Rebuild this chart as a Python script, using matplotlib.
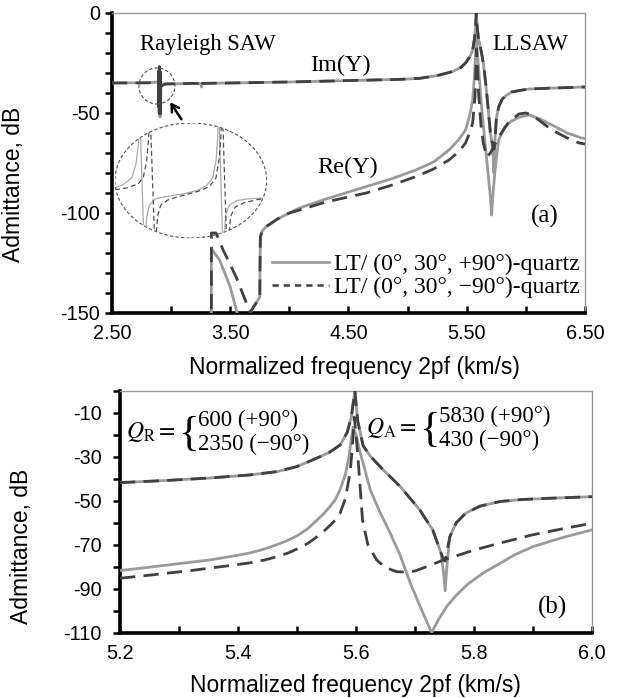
import matplotlib
matplotlib.use("Agg")
import matplotlib.pyplot as plt
from matplotlib.lines import Line2D
from matplotlib.patches import Ellipse
from matplotlib.ticker import FixedLocator, FormatStrFormatter, MultipleLocator

plt.rcParams['font.family'] = 'Liberation Sans'
plt.rcParams['mathtext.fontset'] = 'stix'
plt.rcParams['axes.unicode_minus'] = False

SERIF = 'Liberation Serif'
GRAY = '#9a9a9a'
DARK = '#404040'

# ---- panel (a): wide band, 2.5 .. 6.5 km/s ----
im_f_a = [2.50, 2.80, 2.88, 2.895, 2.900, 2.902, 2.904, 2.906, 2.909, 2.915, 2.95, 3.20, 3.25,
          3.257, 3.265, 3.50, 4.00, 4.50, 4.93, 5.10, 5.25, 5.38, 5.45, 5.49, 5.53, 5.55,
          5.565, 5.575, 5.58, 5.59, 5.60, 5.62, 5.64, 5.66, 5.68, 5.70, 5.72, 5.73, 5.735,
          5.74, 5.75, 5.77, 5.80, 5.84, 5.88, 5.94, 6.03, 6.20, 6.50]
im_plus_a = [-35.0, -34.9, -34.6, -33.5, -30.0, -26.8, -45.0, -52.0, -40.0, -36.5, -35.5, -35.2, -35.3,
             -37.0, -35.2, -35.0, -34.5, -33.8, -33.2, -32.7, -31.3, -29.3, -27.2, -25.0, -21.5, -18.5,
             -13.0, -7.0, 0.0, -8.0, -13.0, -18.5, -25.0, -35.0, -47.0, -60.0, -68.0, -80.0, -72.0,
             -62.0, -53.0, -47.0, -43.0, -41.0, -39.5, -38.8, -38.0, -37.6, -37.0]
im_minus_a = [-35.0, -34.9, -34.6, -33.5, -30.0, -26.8, -45.0, -52.0, -40.0, -36.5, -35.5, -35.2, -35.3,
              -37.0, -35.2, -35.0, -34.5, -33.8, -33.2, -32.7, -31.3, -29.3, -27.2, -25.0, -21.5, -18.5,
              -13.0, -7.0, 0.0, -8.0, -13.0, -18.5, -25.0, -35.0, -47.0, -60.0, -66.0, -68.0, -66.0,
              -62.0, -53.0, -47.0, -43.0, -41.0, -39.5, -38.8, -38.0, -37.6, -37.0]

# blob of the Rayleigh resonance on Im(Y)
ray_f = [2.899, 2.900, 2.901, 2.902, 2.903, 2.904, 2.905, 2.906]
ray_y = [-33.0, -29.0, -40.0, -30.0, -47.0, -36.0, -50.0, -40.0]

re_f_plus_a = [3.340, 3.341, 3.41, 3.50, 3.55, 3.56, 3.62, 3.66, 3.75, 3.752, 3.755, 3.77, 3.80, 3.90,
               4.00, 4.086, 4.31, 4.65, 4.86, 5.07, 5.22, 5.35, 5.43, 5.49, 5.53, 5.55, 5.565,
               5.575, 5.58, 5.59, 5.61, 5.63, 5.66, 5.68, 5.70, 5.71, 5.72, 5.74, 5.77, 5.82, 5.88,
               5.95, 6.03, 6.12, 6.22, 6.35, 6.47, 6.50]
re_plus_a = [-160.0, -118.0, -123.5, -137.0, -148.0, -151.0, -158.0, -151.0, -142.0, -125.0, -112.0,
             -109.0, -107.0, -103.0, -100.0, -97.5, -93.0, -86.8, -83.0, -78.5, -74.5, -68.5, -63.5,
             -58.5, -50.0, -43.5, -32.0, -20.0, -12.0, -20.0, -35.0, -50.0, -68.0, -80.0, -92.0,
             -101.0, -92.0, -78.0, -63.5, -57.0, -54.0, -52.0, -51.0, -53.0, -56.0, -60.0, -62.5,
             -62.8]

re_f_minus_a = [3.340, 3.341, 3.38, 3.44, 3.55, 3.65, 3.665, 3.75, 3.752, 3.755, 3.77, 3.80, 3.90,
                4.00, 4.086, 4.31, 4.65, 4.86, 5.07, 5.22, 5.35, 5.43, 5.49, 5.53, 5.55, 5.57,
                5.583, 5.60, 5.62, 5.64, 5.67, 5.70, 5.77, 5.85, 5.94, 6.00, 6.05, 6.12, 6.22, 6.35,
                6.45, 6.50]
re_minus_a = [-160.0, -110.0, -110.0, -118.5, -132.0, -147.0, -150.0, -142.0, -125.0, -112.0, -109.0,
              -107.0, -103.0, -100.0, -98.5, -94.5, -90.0, -86.2, -81.8, -78.0, -73.5, -69.5, -65.0,
              -59.0, -55.0, -42.0, -18.0, -40.0, -56.0, -65.0, -72.0, -70.0, -62.0, -55.0, -50.5,
              -50.0, -51.0, -54.0, -58.5, -62.5, -65.0, -65.5]

# zoomed sketch of the Rayleigh resonance (inset coordinates 0..1)
ins_solid = [
    [(0.0, 0.435), (0.055, 0.464), (0.110, 0.522), (0.138, 0.638), (0.154, 0.812), (0.160, 0.913), (0.163, 1.04)],
    [(0.165, 1.04), (0.191, -0.02)],
    [(0.200, -0.02), (0.209, 0.174), (0.226, 0.284), (0.264, 0.339), (0.341, 0.362), (0.451, 0.383),
     (0.538, 0.412), (0.604, 0.455), (0.644, 0.522), (0.666, 0.667), (0.677, 0.870), (0.681, 1.04)],
    [(0.686, 1.04), (0.710, -0.02)],
    [(0.719, -0.02), (0.730, 0.203), (0.754, 0.284), (0.802, 0.325), (0.890, 0.342), (1.0, 0.348)],
]
ins_dashed = [
    [(0.0, 0.420), (0.077, 0.435), (0.154, 0.470), (0.187, 0.528), (0.209, 0.667), (0.222, 0.870), (0.226, 1.04)],
    [(0.233, 1.04), (0.262, -0.02)],
    [(0.270, -0.02), (0.281, 0.188), (0.301, 0.284), (0.352, 0.333), (0.451, 0.371), (0.549, 0.406),
     (0.622, 0.446), (0.666, 0.522), (0.688, 0.696), (0.699, 0.899), (0.703, 1.04)],
    [(0.710, 1.04), (0.736, -0.02)],
    [(0.747, -0.02), (0.763, 0.188), (0.791, 0.267), (0.846, 0.304), (0.934, 0.333), (1.0, 0.342)],
]

# ---- panel (b): around the LLSAW, 5.2 .. 6.0 km/s ----
im_f_b = [5.20, 5.28, 5.352, 5.42, 5.466, 5.50, 5.534, 5.555, 5.573, 5.585, 5.592, 5.598, 5.603, 5.612,
          5.625, 5.646, 5.675, 5.708, 5.730, 5.744, 5.748, 5.751, 5.754, 5.759, 5.770, 5.786, 5.810,
          5.844, 5.88, 5.929, 6.00]
im_plus_b = [-41.8, -40.8, -39.7, -38.3, -36.8, -34.5, -30.6, -28.0, -24.7, -19.0, -12.0, 0.0, -14.0, -25.0,
             -30.0, -36.0, -43.6, -54.2, -63.3, -73.8, -82.0, -91.0, -80.0, -66.4, -60.0, -55.7, -52.5,
             -50.4, -49.5, -48.9, -48.2]
im_minus_b = [-41.8, -40.8, -39.7, -38.3, -36.8, -34.5, -30.6, -28.0, -24.7, -19.0, -12.0, 0.0, -14.0, -25.0,
              -30.0, -36.0, -43.6, -54.2, -63.3, -73.8, -76.5, -77.5, -73.0, -66.4, -60.0, -55.7, -52.5,
              -50.4, -49.5, -48.9, -48.2]

re_f_plus_b = [5.20, 5.24, 5.28, 5.32, 5.352, 5.39, 5.42, 5.445, 5.466, 5.485, 5.50, 5.518, 5.534,
               5.545, 5.555, 5.565, 5.573, 5.582, 5.588, 5.592, 5.595, 5.600, 5.606, 5.612, 5.624,
               5.640, 5.658, 5.675, 5.692, 5.710, 5.728, 5.740, 5.754, 5.770, 5.788, 5.815, 5.844,
               5.870, 5.900, 5.950, 6.00]
re_plus_b = [-81.8, -80.6, -79.3, -78.0, -77.0, -75.3, -73.8, -72.0, -70.0, -68.0, -66.0, -62.8, -58.8,
             -56.0, -53.0, -49.5, -45.0, -38.0, -30.0, -22.0, -16.5, -20.0, -27.0, -33.0, -45.0,
             -55.0, -64.8, -75.0, -87.5, -99.0, -110.0, -104.0, -98.0, -93.0, -88.3, -83.0, -78.5,
             -74.5, -70.9, -66.8, -63.3]

re_f_minus_b = [5.20, 5.24, 5.28, 5.32, 5.352, 5.39, 5.42, 5.445, 5.466, 5.485, 5.50, 5.518, 5.534,
                5.545, 5.555, 5.565, 5.573, 5.582, 5.590, 5.594, 5.597, 5.600, 5.604, 5.611, 5.620,
                5.635, 5.650, 5.669, 5.685, 5.700, 5.720, 5.748, 5.80, 5.844, 5.90, 5.95, 6.00]
re_minus_b = [-85.3, -84.2, -83.0, -81.8, -80.7, -79.4, -78.3, -77.0, -75.5, -73.8, -72.0, -69.5, -66.4,
              -64.0, -61.5, -58.8, -55.7, -49.0, -37.0, -25.0, -12.0, -20.0, -33.0, -58.8, -70.0,
              -77.0, -80.5, -82.3, -82.5, -82.0, -80.0, -77.0, -72.5, -69.3, -65.5, -62.8, -60.3]

legend_labels = ['LT/ (0°, 30°, +90°)-quartz', 'LT/ (0°, 30°, \u221290°)-quartz']


def style_axes(ax, ypad):
    for side in ['top', 'right']:
        ax.spines[side].set_color('#999999')
        ax.spines[side].set_linewidth(1.0)
    for side in ['left', 'bottom']:
        ax.spines[side].set_color('black')
        ax.spines[side].set_linewidth(2.6)
    ax.tick_params(axis='y', which='both', direction='out', length=5, width=1.8,
                   labelsize=14.3, pad=ypad)
    ax.tick_params(axis='x', which='both', direction='in', length=5, width=1.8,
                   labelsize=14.3, pad=8)
    ax.tick_params(top=False, right=False, which='both')


def draw_pair(ax, f_plus, y_plus, f_minus, y_minus, dashes=(5.5, 3)):
    ax.plot(f_plus, y_plus, color=GRAY, lw=2.0, zorder=3)
    ax.plot(f_minus, y_minus, color=DARK, lw=2.0, dashes=dashes, zorder=4)


fig = plt.figure(figsize=(6.18, 6.98), dpi=100)

# ---------------- panel (a) ----------------
ax1 = fig.add_axes([0.1812, 0.5516, 0.7654, 0.4298])
draw_pair(ax1, im_f_a, im_plus_a, im_f_a, im_minus_a)
ax1.plot(ray_f, ray_y, color=DARK, lw=3.0, zorder=5)
draw_pair(ax1, re_f_plus_a, re_plus_a, re_f_minus_a, re_minus_a)
ax1.set_xlim(2.5, 6.5)
ax1.set_ylim(-150, 0)
ax1.xaxis.set_major_locator(FixedLocator([2.5, 3.5, 4.5, 5.5, 6.5]))
ax1.xaxis.set_minor_locator(FixedLocator([3.0, 4.0, 5.0, 6.0]))
ax1.xaxis.set_major_formatter(FormatStrFormatter('%.2f'))
ax1.yaxis.set_major_locator(MultipleLocator(50))
ax1.yaxis.set_minor_locator(MultipleLocator(10))
style_axes(ax1, 3.5)
ax1.set_ylabel('Admittance, dB', fontsize=16.5)
ax1.yaxis.set_label_coords(-0.184, 0.43)
ax1.set_xlabel('Normalized frequency 2pf (km/s)', fontsize=16.5)
ax1.xaxis.set_label_coords(0.513, -0.145)

ax1.text(3.31, -16, 'Rayleigh SAW', family=SERIF, fontsize=16.3, ha='center', va='center')
ax1.text(6.04, -16, 'LLSAW', family=SERIF, fontsize=16.3, ha='center', va='center')
ax1.text(4.43, -26, 'Im(Y)', family=SERIF, fontsize=17.5, ha='center', va='center')
ax1.text(4.49, -77, 'Re(Y)', family=SERIF, fontsize=17.5, ha='center', va='center')
ax1.text(6.157, -101.5, '(a)', family=SERIF, fontsize=18, ha='center', va='center')

# circle around the Rayleigh resonance and arrow to the zoomed sketch
ax1.add_patch(Ellipse((2.88, -36.5), 0.304, 18, fill=False, ls=(0, (3, 2)), lw=0.8,
                      color='#505050', zorder=6))
ax1.annotate('', xy=(2.98, -43.5), xytext=(3.10, -54.3),
             arrowprops=dict(arrowstyle='->,head_length=0.5,head_width=0.3', color='black',
                             lw=1.8))

ins = ax1.inset_axes([2.525, -112.5, 1.283, 57.5], transform=ax1.transData)
ins.set_xlim(0, 1)
ins.set_ylim(0, 1)
ins.axis('off')
ins.patch.set_alpha(0)
oval = Ellipse((0.5, 0.5), 1.0, 1.0, transform=ins.transAxes, fill=False,
               ls=(0, (3, 2)), lw=0.8, color='#505050')
ins.add_patch(oval)
for seg in ins_solid:
    ln, = ins.plot([p[0] for p in seg], [p[1] for p in seg], color='#aaaaaa', lw=0.9)
    ln.set_clip_path(oval)
for seg in ins_dashed:
    ln, = ins.plot([p[0] for p in seg], [p[1] for p in seg], color='#505050', lw=0.9,
                   dashes=(4, 2.5))
    ln.set_clip_path(oval)

handles = [Line2D([], [], color=GRAY, lw=2.0),
           Line2D([], [], color=DARK, lw=1.8, dashes=(2.5, 2))]
ax1.legend(handles, legend_labels, loc='lower right', bbox_to_anchor=(0.988, 0.05),
           frameon=False, prop={'family': SERIF, 'size': 17}, handlelength=2.4,
           handletextpad=0.2, labelspacing=0.05, borderpad=0, borderaxespad=0)

# ---------------- panel (b) ----------------
ax2 = fig.add_axes([0.1942, 0.0938, 0.7638, 0.3464])
draw_pair(ax2, im_f_b, im_plus_b, im_f_b, im_minus_b)
draw_pair(ax2, re_f_plus_b, re_plus_b, re_f_minus_b, re_minus_b)
ax2.set_xlim(5.2, 6.0)
ax2.set_ylim(-110, 0)
ax2.xaxis.set_major_locator(MultipleLocator(0.2))
ax2.xaxis.set_minor_locator(MultipleLocator(0.1))
ax2.xaxis.set_major_formatter(FormatStrFormatter('%.1f'))
ax2.set_yticks([-110, -90, -70, -50, -30, -10])
ax2.set_yticks([-100, -80, -60, -40, -20, 0], minor=True)
style_axes(ax2, 8)
ax2.set_ylabel('Admittance, dB', fontsize=16.5)
ax2.yaxis.set_label_coords(-0.184, 0.356)
ax2.set_xlabel('Normalized frequency 2pf (km/s)', fontsize=16.5)
ax2.xaxis.set_label_coords(0.498, -0.17)

ax2.text(5.933, -98.8, '(b)', family=SERIF, fontsize=18, ha='center', va='center')

ax2.text(5.295, -18.8, r'$Q_\mathrm{R}=$', fontsize=17, ha='right', va='center')
ax2.text(5.316, -19.8, '{', family=SERIF, fontsize=31, ha='center', va='center',
         fontweight='light')
ax2.text(5.333, -13.3, '600 (+90°)', family=SERIF, fontsize=16.5, ha='left', va='center')
ax2.text(5.333, -24.5, '2350 (\u221290°)', family=SERIF, fontsize=16.5, ha='left', va='center')

ax2.text(5.703, -17.1, r'$Q_\mathrm{A}=$', fontsize=17, ha='right', va='center')
ax2.text(5.724, -18.1, '{', family=SERIF, fontsize=31, ha='center', va='center',
         fontweight='light')
ax2.text(5.741, -11.8, '5830 (+90°)', family=SERIF, fontsize=16.5, ha='left', va='center')
ax2.text(5.741, -22.4, '430 (\u221290°)', family=SERIF, fontsize=16.5, ha='left', va='center')

fig.savefig('out.png', dpi=100)
